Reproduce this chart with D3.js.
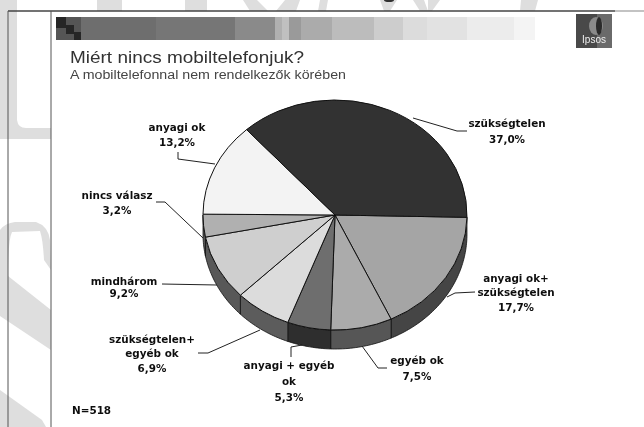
<!DOCTYPE html>
<html>
<head>
<meta charset="utf-8">
<script src="https://cdn.jsdelivr.net/npm/d3@7"></script>
<style>
  html, body { margin: 0; padding: 0; background: #fff; overflow: hidden; }
  .lbl { font-family: "DejaVu Sans", sans-serif; font-size: 10.4px; font-weight: bold; fill: #111; text-anchor: middle; }
</style>
</head>
<body>
<svg id="chart" width="644" height="427"></svg>
<script>
// slice values, clockwise from the right edge
const categories = ["anyagi ok+ szükségtelen", "egyéb ok", "anyagi + egyéb ok", "szükségtelen+ egyéb ok", "mindhárom", "nincs válasz", "anyagi ok", "szükségtelen"];
const values = [17.7, 7.5, 5.3, 6.9, 9.2, 3.2, 13.2, 37.0];
const topColors = ["#a5a5a5", "#ababab", "#6e6e6e", "#dcdcdc", "#cfcfcf", "#b0b0b0", "#f3f3f3", "#333333"];
const sideColors = ["#454545", "#575757", "#2e2e2e", "#5c5c5c", "#585858", "#585858", "#585858", "#333333"];

// text blocks: lines, centre x, baselines
const labelLines = [
  [["anyagi ok+", "szükségtelen", "17,7%"], 516, [282, 296, 311]],
  [["egyéb ok", "7,5%"], 417, [364, 380]],
  [["anyagi + egyéb", "ok", "5,3%"], 289, [369, 385, 401]],
  [["szükségtelen+", "egyéb ok", "6,9%"], 152, [343, 357, 372]],
  [["mindhárom", "9,2%"], 124, [285, 297]],
  [["nincs válasz", "3,2%"], 117, [199, 214]],
  [["anyagi ok", "13,2%"], 177, [131, 146]],
  [["szükségtelen", "37,0%"], 507, [127, 143]]
];
const leaders = [
  [[447, 297], [455, 293], [475, 292]],
  [[362, 346], [378, 368], [387, 368]],
  [[302, 345], [291, 347], [291, 357]],
  [[260, 330], [208, 353], [198, 353]],
  [[217, 285], [162, 284]],
  [[203, 238], [165, 202], [156, 202]],
  [[215, 164], [178, 159], [178, 152]],
  [[413, 118], [457, 131], [467, 131]]
];

// header band steps: x0, x1, grey
const bandSteps = [
  [81, 156, "#6e6e6e"], [156, 235, "#767676"], [235, 275, "#8a8a8a"], [275, 282, "#b0b0b0"],
  [282, 289, "#c0c0c0"], [289, 301, "#9a9a9a"], [301, 332, "#ababab"], [332, 374, "#bcbcbc"],
  [374, 403, "#cdcdcd"], [403, 427, "#dcdcdc"], [427, 467, "#e2e2e2"], [467, 514, "#ececec"],
  [514, 535, "#f4f4f4"]
];
const bandTile = [[56, 17, 10, 11], [66, 25, 8, 9], [74, 32, 7, 8]];

// faint watermark behind the slide
const watermark = [
  "M0,0 L17,0 L17,120 Q18,128 26,128 L51,128 L51,139 L0,139 Z",
  "M0,230 Q5,223 15,222 L36,222 Q48,226 50,240 L51,270 L44,260 Q43,240 40,231 L12,232 Q8,240 8,276 L51,310 L51,350 L0,316 Z",
  "M0,390 L42,420 L46,427 L0,427 Z",
  "M97,0 L122,0 L122,11 L97,11 Z", "M185,0 L207,0 L207,11 L185,11 Z",
  "M243,0 L257,0 L268,11 L250,11 Z", "M285,0 L300,0 L296,11 L276,11 Z",
  "M320,0 L328,0 L326,11 L318,11 Z", "M380,0 L397,0 L390,11 L384,11 Z",
  "M413,0 L424,0 L428,11 L420,11 Z", "M428,0 L440,0 L432,11 L428,11 Z",
  "M521,0 L538,0 L535,11 L520,11 Z"
];

const svg = d3.select("#chart");

svg.append("defs").append("filter").attr("id", "soft")
  .append("feGaussianBlur").attr("stdDeviation", 0.4);

const page = svg.append("g").attr("filter", "url(#soft)");

page.append("rect").attr("width", 644).attr("height", 427).attr("fill", "#fff");
page.append("g").selectAll("path").data(watermark).enter().append("path")
  .attr("d", (d) => d).attr("fill", "#dedede");
page.append("ellipse").attr("cx", 389).attr("cy", 0).attr("rx", 5).attr("ry", 2).attr("fill", "#333");

// frame lines
page.append("line").attr("x1", 8).attr("x2", 615).attr("y1", 11).attr("y2", 11).attr("stroke", "#444").attr("stroke-width", 1.4);
page.append("line").attr("x1", 615).attr("x2", 644).attr("y1", 11).attr("y2", 11).attr("stroke", "#aaa").attr("stroke-width", 1.4);
page.append("line").attr("x1", 8).attr("x2", 8).attr("y1", 11).attr("y2", 427).attr("stroke", "#555");
page.append("line").attr("x1", 51).attr("x2", 51).attr("y1", 11).attr("y2", 427).attr("stroke", "#555");

// header band
page.append("rect").attr("x", 56).attr("y", 17).attr("width", 25).attr("height", 23).attr("fill", "#555");
page.append("g").selectAll("rect").data(bandTile).enter().append("rect")
  .attr("x", (d) => d[0]).attr("y", (d) => d[1]).attr("width", (d) => d[2]).attr("height", (d) => d[3]).attr("fill", "#262626");
page.append("g").selectAll("rect").data(bandSteps).enter().append("rect")
  .attr("x", (d) => d[0]).attr("y", 17).attr("width", (d) => d[1] - d[0]).attr("height", 23).attr("fill", (d) => d[2]);

// logo
page.append("rect").attr("x", 576).attr("y", 14).attr("width", 36).attr("height", 34).attr("fill", "#4a4a4a");
page.append("rect").attr("x", 597).attr("y", 14).attr("width", 15).attr("height", 34).attr("fill", "#6a6a6a");
page.append("ellipse").attr("cx", 596).attr("cy", 26).attr("rx", 7).attr("ry", 9).attr("fill", "#8a8a8a");
page.append("ellipse").attr("cx", 599).attr("cy", 26).attr("rx", 3).attr("ry", 9).attr("fill", "#2a2a2a");
page.append("text").attr("x", 594).attr("y", 43).attr("text-anchor", "middle")
  .attr("font-family", "Liberation Sans").attr("font-size", 10).attr("fill", "#eee").text("Ipsos");

// titles
page.append("text").attr("x", 70).attr("y", 63).attr("font-family", "Liberation Sans").attr("font-size", 17)
  .attr("fill", "#333").attr("textLength", 234).attr("lengthAdjust", "spacingAndGlyphs").text("Miért nincs mobiltelefonjuk?");
page.append("text").attr("x", 70).attr("y", 79).attr("font-family", "Liberation Sans").attr("font-size", 12)
  .attr("fill", "#444").attr("textLength", 276).attr("lengthAdjust", "spacingAndGlyphs").text("A mobiltelefonnal nem rendelkezők körében");

// pie
const cx = 335, cy = 215, rx = 132, ry = 115, depth = 19;
const startAngle = Math.PI / 2 + 0.02;
const slices = d3.pie().sort(null).startAngle(startAngle).endAngle(startAngle + 2 * Math.PI)(values);

const px = (a) => rx * Math.sin(a);
const py = (a) => -ry * Math.cos(a);

const pie = page.append("g").attr("transform", `translate(${cx},${cy})`);

// side wall, front half only
const wall = d3.area().x((a) => px(a)).y0((a) => py(a)).y1((a) => py(a) + depth);
const front = (d) => {
  const a0 = Math.max(d.startAngle, Math.PI / 2);
  const a1 = Math.min(d.endAngle, 3 * Math.PI / 2);
  return a1 > a0 ? d3.range(a0, a1, 0.02).concat([a1]) : null;
};
pie.append("g").selectAll("path").data(slices.filter(front)).enter().append("path")
  .attr("d", (d) => wall(front(d)))
  .attr("fill", (d) => sideColors[d.index])
  .attr("stroke", "#111").attr("stroke-width", 0.8);

// top face
const arc = d3.arc().innerRadius(0).outerRadius(rx);
pie.append("g").attr("transform", `scale(1,${ry / rx})`)
  .selectAll("path").data(slices).enter().append("path")
  .attr("d", arc)
  .attr("fill", (d) => topColors[d.index])
  .attr("stroke", "#111").attr("stroke-width", 1)
  .attr("vector-effect", "non-scaling-stroke");

// leader lines
const leaderLine = d3.line();
page.append("g").selectAll("path").data(leaders).enter().append("path")
  .attr("d", leaderLine).attr("fill", "none").attr("stroke", "#222").attr("stroke-width", 1);

// labels
const labels = page.append("g").selectAll("g").data(labelLines).enter().append("g");
labels.selectAll("text").data((d) => d[0].map((t, i) => [t, d[1], d[2][i]])).enter().append("text")
  .attr("class", "lbl").attr("x", (d) => d[1]).attr("y", (d) => d[2]).text((d) => d[0]);

page.append("text").attr("class", "lbl").attr("x", 72).attr("y", 414).style("text-anchor", "start").text("N=518");
</script>
</body>
</html>
